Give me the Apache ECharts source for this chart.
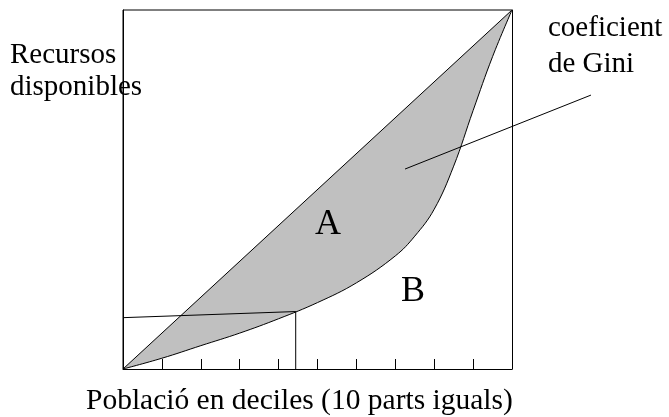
<!DOCTYPE html>
<html>
<head>
<meta charset="utf-8">
<script src="https://cdn.jsdelivr.net/npm/echarts@6/dist/echarts.min.js"></script>
<style>
  html, body { margin: 0; padding: 0; background: #fff; }
  #chart { width: 669px; height: 417px; }
</style>
</head>
<body>
<div id="chart"></div>
<script>
// població acumulada (deciles) i recursos acumulats, llegits del gràfic
var poblacio = [0, 0.1, 0.2, 0.3, 0.4, 0.5, 0.6, 0.7, 0.75, 0.8, 0.85, 0.9, 0.95, 1];
var recursos = [0, 0.03, 0.065, 0.10, 0.14, 0.185, 0.24, 0.315, 0.37, 0.445, 0.565, 0.72, 0.87, 1];
// recta d'igualtat perfecta
var igualtatX = [0, 1];
var igualtatY = [0, 1];
// línies de referència (horitzontal i vertical cap a la corba)
var refX = [0, 0.444, 0.444];
var refY = [0.143, 0.16, 0];
// línia que assenyala el coeficient de Gini
var giniX = [0.725, 1.203];
var giniY = [0.557, 0.763];

function pairs(xs, ys) {
    return xs.map(function (x, i) { return [x, ys[i]]; });
}

var serif = '"Liberation Serif", "DejaVu Serif", serif';
var myChart = echarts.init(document.getElementById('chart'));
option = {
    backgroundColor: '#fff',
    animation: false,
    grid: {
        left: 123,
        right: 157,
        top: 10,
        bottom: 48,
        show: true,
        borderColor: '#000',
        borderWidth: 1
    },
    xAxis: {
        type: 'value',
        min: 0,
        max: 1,
        interval: 0.1,
        z: 10,
        axisLine: { lineStyle: { color: '#000', width: 1 } },
        axisTick: { inside: true, length: 10, lineStyle: { color: '#000' } },
        axisLabel: { show: false },
        splitLine: { show: false }
    },
    yAxis: [
        {
            type: 'value',
            min: 0,
            max: 1,
            z: 10,
            axisLine: { show: true, lineStyle: { color: '#000', width: 1 } },
            axisTick: { show: false },
            axisLabel: { show: false },
            splitLine: { show: false }
        },
        {
            type: 'value',
            position: 'right',
            min: 0,
            max: 1,
            z: 10,
            axisLine: { show: true, lineStyle: { color: '#000', width: 1 } },
            axisTick: { show: false },
            axisLabel: { show: false },
            splitLine: { show: false }
        }
    ],
    series: [
        {
            name: 'igualtat',
            type: 'line',
            z: 1,
            data: pairs(igualtatX, igualtatY),
            symbol: 'none',
            lineStyle: { color: '#000', width: 1 },
            areaStyle: { color: '#c0c0c0', opacity: 1 }
        },
        {
            name: 'Lorenz',
            type: 'line',
            z: 2,
            smooth: 0.4,
            data: pairs(poblacio, recursos),
            symbol: 'none',
            lineStyle: { color: '#000', width: 1 },
            areaStyle: { color: '#fff', opacity: 1 }
        },
        {
            name: 'referència',
            type: 'line',
            z: 3,
            data: pairs(refX, refY),
            symbol: 'none',
            lineStyle: { color: '#000', width: 1 }
        }
    ]
};
myChart.setOption(option);

// textos i línia del coeficient de Gini (surt fora de la graella)
var p0 = myChart.convertToPixel({ gridIndex: 0 }, [giniX[0], giniY[0]]);
var p1 = myChart.convertToPixel({ gridIndex: 0 }, [giniX[1], giniY[1]]);
myChart.setOption({
    graphic: [
        { type: 'line', z: 20, shape: { x1: p0[0], y1: p0[1], x2: p1[0], y2: p1[1] }, style: { stroke: '#000', lineWidth: 1 } },
        { type: 'text', z: 20, left: 10, top: 41, style: { text: 'Recursos', font: '29px ' + serif, fill: '#000' } },
        { type: 'text', z: 20, left: 10, top: 73, style: { text: 'disponibles', font: '29px ' + serif, fill: '#000' } },
        { type: 'text', z: 20, left: 548, top: 14, style: { text: 'coeficient', font: '29px ' + serif, fill: '#000' } },
        { type: 'text', z: 20, left: 548, top: 50, style: { text: 'de Gini', font: '29px ' + serif, fill: '#000' } },
        { type: 'text', z: 20, left: 315, top: 207, style: { text: 'A', font: '36px ' + serif, fill: '#000' } },
        { type: 'text', z: 20, left: 401, top: 274, style: { text: 'B', font: '36px ' + serif, fill: '#000' } },
        { type: 'text', z: 20, left: 86, top: 386, style: { text: 'Població en deciles (10 parts iguals)', font: '29.5px ' + serif, fill: '#000' } }
    ]
});
</script>
</body>
</html>
